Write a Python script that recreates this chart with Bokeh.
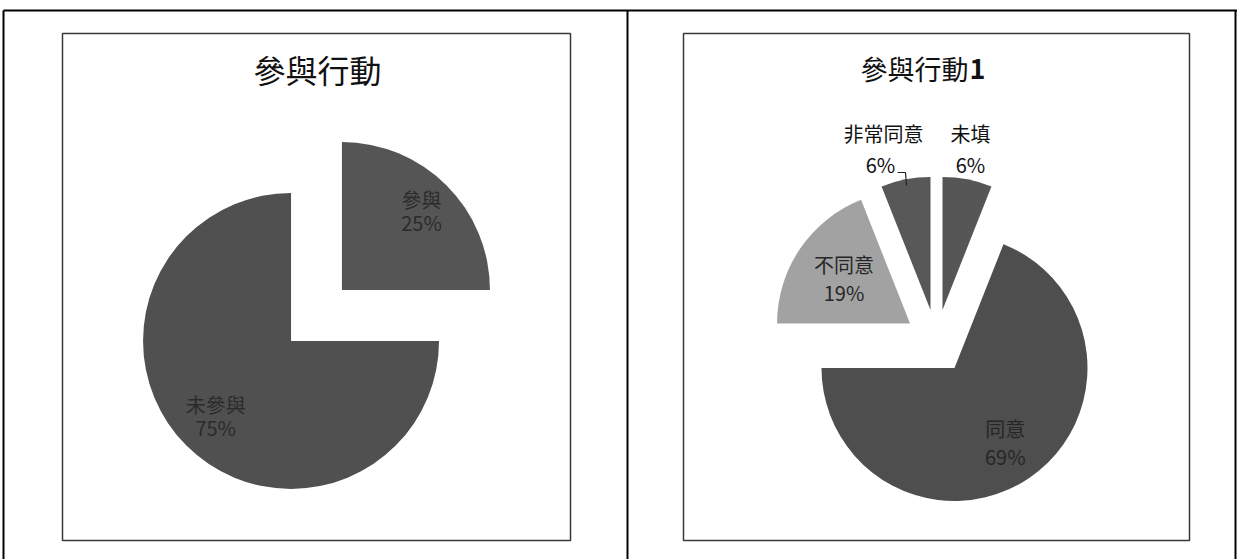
import numpy as np
from bokeh.plotting import figure
from bokeh.models import Range1d, ColumnDataSource
from bokeh.core.properties import value
from bokeh.embed import file_html
from bokeh.resources import INLINE

# ---------------- data ----------------
left_title = "參與行動"
left_labels = ["參與", "未參與"]
left_values = [25, 75]
left_colors = ["#555555", "#505050"]

right_title = "參與行動"
right_title_suffix = "1"
right_labels = ["未填", "同意", "不同意", "非常同意"]
right_values = [6, 69, 19, 6]
right_colors = ["#565656", "#4e4e4e", "#a2a2a2", "#585858"]

# ---------------- layout ----------------
IMG_H = 559
W, H = 1237, 559
FONT = "Noto Sans CJK TC"


def Y(img_y):
    return IMG_H - img_y


p = figure(width=W, height=H, output_backend="svg", toolbar_location=None,
           x_range=Range1d(0, W), y_range=Range1d(IMG_H - H, IMG_H),
           min_border=0, background_fill_color="white", border_fill_color="white")
p.axis.visible = False
p.grid.visible = False
p.outline_line_color = None

# outer table lines
p.segment(x0=[3, 3, 627, 1235], y0=[Y(10), Y(10), Y(10), Y(10)],
          x1=[1237, 3, 627, 1235], y1=[Y(10), Y(559), Y(559), Y(559)],
          line_color="black", line_width=2)

# chart boxes
for (x0, x1) in [(62, 570), (683, 1189)]:
    p.quad(left=x0, right=x1, top=Y(33), bottom=Y(540), fill_color=None,
           line_color="#3a3a3a", line_width=1.5)


def pie(cx, cy, r, explode, values, colors):
    vals = np.array(values, dtype=float)
    frac = vals / vals.sum()
    c1 = np.cumsum(frac)
    c0 = c1 - frac
    start = np.pi / 2 - 2 * np.pi * c1
    end = np.pi / 2 - 2 * np.pi * c0
    mid = (start + end) / 2
    xs = cx + explode * np.cos(mid)
    ys = Y(cy) + explode * np.sin(mid)
    src = ColumnDataSource(dict(x=xs, y=ys, s=start, e=end, c=colors))
    p.wedge(x="x", y="y", radius=r, start_angle="s", end_angle="e",
            fill_color="c", line_color=None, source=src)
    return xs, ys, mid


def inner_labels(xs, ys, mid, r, fracs, names, values, idx, color, size, gap):
    lx, ly1, ly2, n, pc = [], [], [], [], []
    for i in idx:
        x = xs[i] + fracs[i] * r * np.cos(mid[i])
        y = ys[i] + fracs[i] * r * np.sin(mid[i])
        lx.append(x)
        ly1.append(y + gap / 2)
        ly2.append(y - gap / 2)
        n.append(names[i])
        pc.append(f"{values[i]}%")
    p.text(x=lx, y=ly1, text=n, text_font=value(FONT), text_font_size=size,
           text_color=color, text_align="center", text_baseline="middle")
    p.text(x=lx, y=ly2, text=pc, text_font=value(FONT), text_font_size=size,
           text_color=color, text_align="center", text_baseline="middle")


# ---- left pie ----
lxs, lys, lmid = pie(316, 315, 148, 36, left_values, left_colors)
inner_labels(lxs, lys, lmid, 148, [0.76, 0.72], left_labels, left_values,
             [0, 1], "#2b2b2b", "20px", 23)
p.text(x=[317], y=[Y(68)], text=[left_title], text_font=value(FONT),
       text_font_size="32px", text_color="#111111", text_align="center",
       text_baseline="middle")

# ---- right pie ----
rxs, rys, rmid = pie(936, 341, 133, 32, right_values, right_colors)
inner_labels(rxs, rys, rmid, 133, [0, 0.68, 0.6, 0], right_labels, right_values,
             [1, 2], "#262626", "20px", 28)

# outside labels for the two small slices
out_x = [970, 880]
out_idx = [0, 3]
p.text(x=[970, 883], y=[Y(133)] * 2, text=[right_labels[i] for i in out_idx],
       text_font=value(FONT), text_font_size="20px", text_color="#111111",
       text_align="center", text_baseline="middle")
p.text(x=out_x, y=[Y(164)] * 2, text=[f"{right_values[i]}%" for i in out_idx],
       text_font=value(FONT), text_font_size="20px", text_color="#111111",
       text_align="center", text_baseline="middle")
p.line(x=[897, 905, 906], y=[Y(172), Y(172), Y(185)], line_color="#222222",
       line_width=1.2)

p.text(x=[968], y=[Y(68)], text=[right_title], text_font=value(FONT),
       text_font_size="27px", text_color="#111111", text_align="right",
       text_baseline="middle")
p.text(x=[969], y=[Y(68)], text=[right_title_suffix], text_font=value(FONT),
       text_font_size="27px", text_font_style="bold", text_color="#111111",
       text_align="left", text_baseline="middle")

open("out.html", "w").write(file_html(p, INLINE))
